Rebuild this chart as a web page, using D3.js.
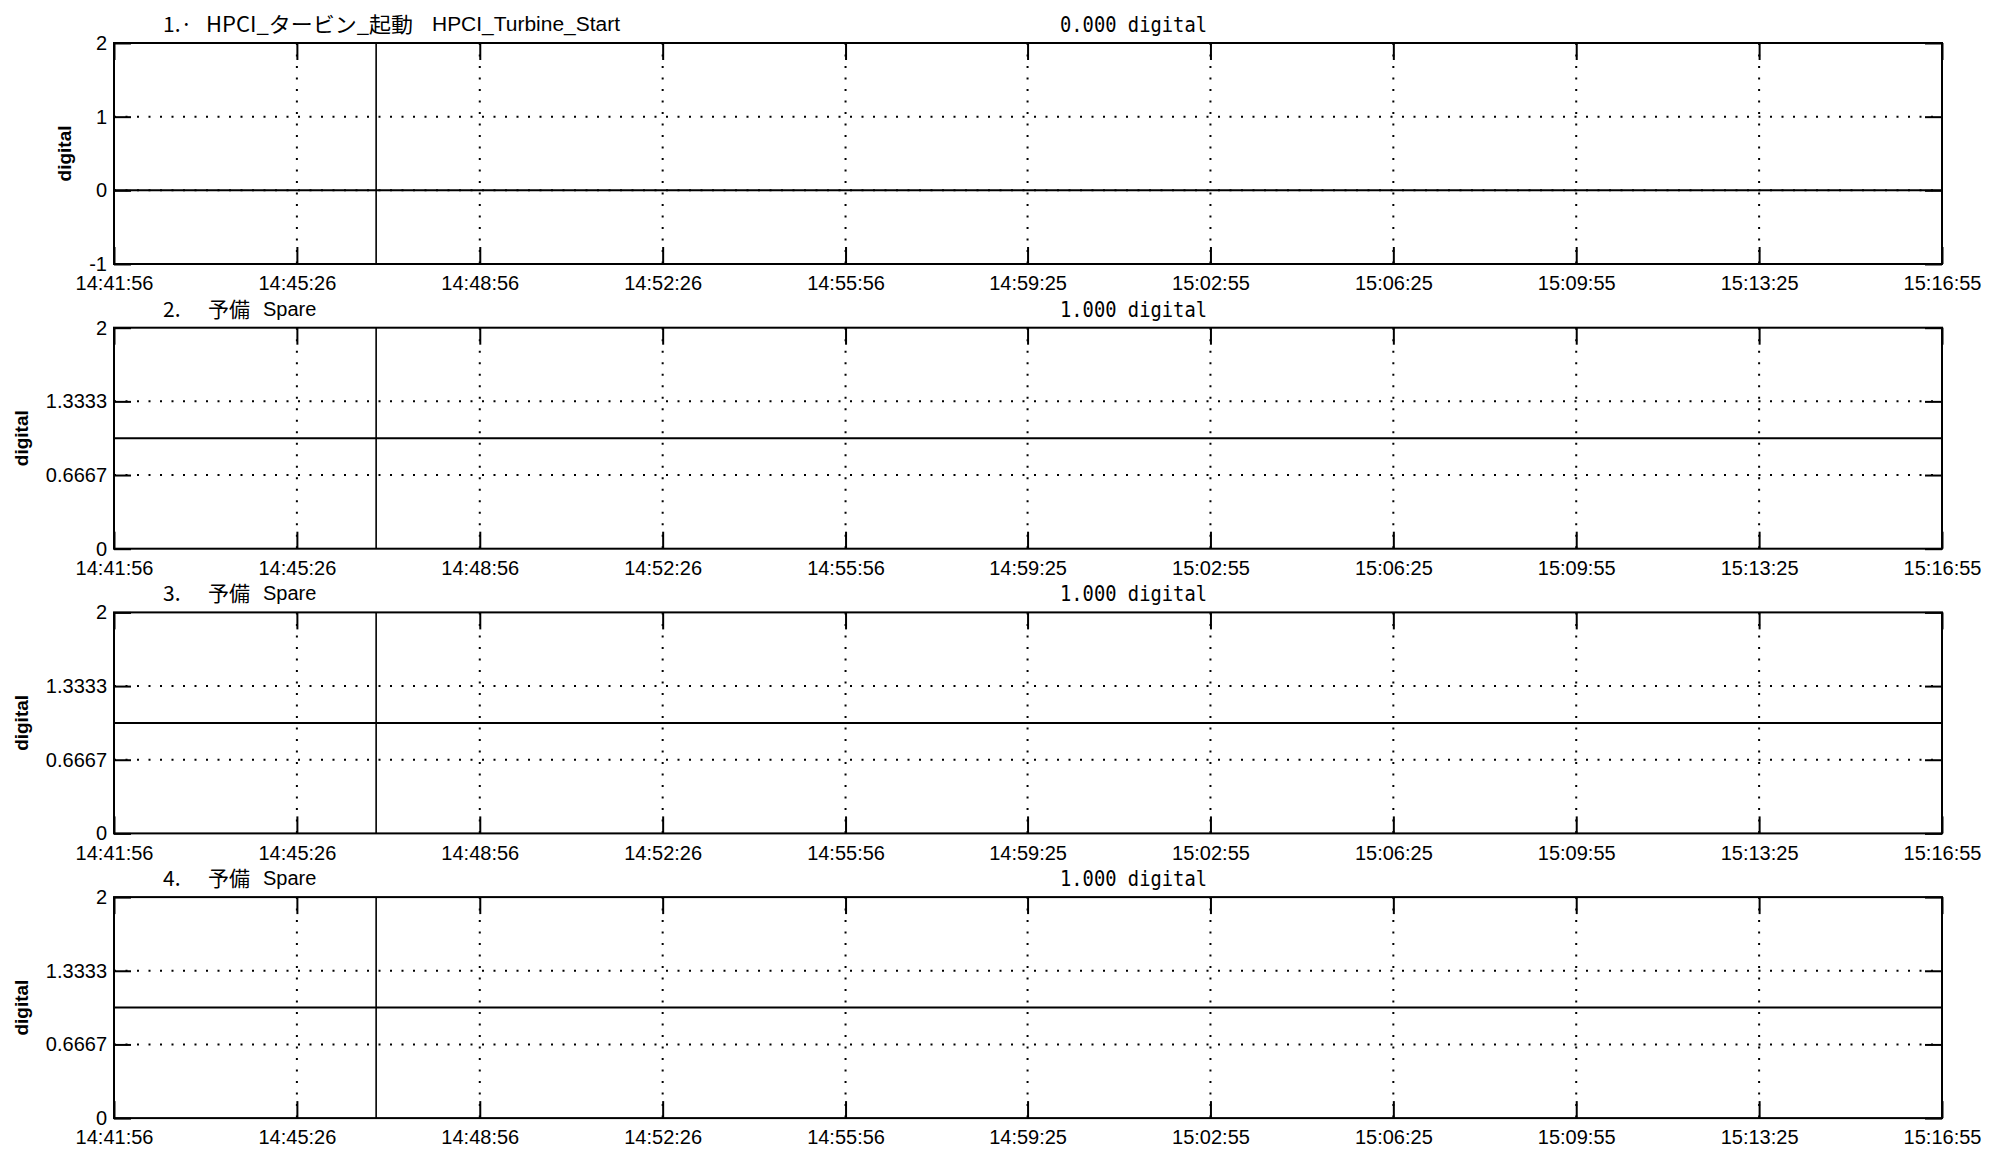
<!DOCTYPE html>
<meta charset="utf-8">
<style>
  body { margin: 0; background: #fff; }
  svg text { fill: #000; }
  .frame { fill: none; stroke: #000; stroke-width: 2; }
  .grid { stroke: #000; stroke-width: 2; stroke-dasharray: 2, 9.5; }
  .trace { fill: none; stroke: #000; stroke-width: 2; }
  .cursor { stroke: #000; stroke-width: 1.6; }
  .axis .tick line { stroke: #000; stroke-width: 2; }
  .axis text { font-family: "Liberation Sans", Arial, sans-serif; font-size: 20px; }
  .ylab { font-family: "Liberation Sans", Arial, sans-serif; font-size: 19px; font-weight: bold; }
  .jp { font-family: "Noto Sans CJK JP", sans-serif; font-size: 21px; }
  .en { font-family: "Liberation Sans", Arial, sans-serif; font-size: 20px; }
  .val { font-family: "DejaVu Sans Mono", monospace; font-size: 22px; }
</style>
<body></body>
<script src="https://cdn.jsdelivr.net/npm/d3@7/dist/d3.min.js"></script>
<script>

// time axis labels (equally spaced, about 3.5 min)
const tickLabels = ["14:41:56", "14:45:26", "14:48:56", "14:52:26", "14:55:56",
  "14:59:25", "15:02:55", "15:06:25", "15:09:55", "15:13:25", "15:16:55"];
const cursorTime = "14:46:57";

// per-panel titles
const panelNo = ["1.·", "2.", "3.", "4."];
const panelNameJp = ["HPCI_タービン_起動", "予備", "予備", "予備"];
const panelNameEn = ["HPCI_Turbine_Start", "Spare", "Spare", "Spare"];
const unit = "digital";
const currentValues = [0, 1, 1, 1];

// y axes
const yDomains = [[-1, 2], [0, 2], [0, 2], [0, 2]];
const yTicks = [[-1, 0, 1, 2], [0, 0.6667, 1.3333, 2], [0, 0.6667, 1.3333, 2], [0, 0.6667, 1.3333, 2]];

// recorded signals, sampled at the tick times
const hpciTurbineStart = [0, 0, 0, 0, 0, 0, 0, 0, 0, 0, 0];
const spare2 = [1, 1, 1, 1, 1, 1, 1, 1, 1, 1, 1];
const spare3 = [1, 1, 1, 1, 1, 1, 1, 1, 1, 1, 1];
const spare4 = [1, 1, 1, 1, 1, 1, 1, 1, 1, 1, 1];
const seriesList = [hpciTurbineStart, spare2, spare3, spare4];

const W = 2001, H = 1161;
const left = 114, right = 1942, top0 = 43, step = 284.7, ph = 221;
const tickLen = 17;

const parse = d3.timeParse("%H:%M:%S");
const fmt = d3.timeFormat("%H:%M:%S");
const times = tickLabels.map(parse);

const svg = d3.select("body").append("svg").attr("width", W).attr("height", H);

const x = d3.scaleTime()
  .domain([times[0], times[times.length - 1]])
  .range([0, right - left]);

const line = d3.line().x((d, i) => x(times[i]));

seriesList.forEach((vals, p) => {
  const g = svg.append("g").attr("transform", `translate(${left},${top0 + p * step})`);
  const y = d3.scaleLinear().domain(yDomains[p]).range([ph, 0]);

  // dotted grid
  g.selectAll(".vg").data(times.slice(1, -1)).join("line")
    .attr("class", "grid")
    .attr("x1", d => x(d)).attr("x2", d => x(d))
    .attr("y1", 0).attr("y2", ph);
  g.selectAll(".hg").data(yTicks[p].slice(1, -1)).join("line")
    .attr("class", "grid")
    .attr("x1", 0).attr("x2", x.range()[1])
    .attr("y1", d => y(d)).attr("y2", d => y(d));

  // axes with inward ticks
  g.append("g").attr("class", "axis")
    .attr("transform", `translate(0,${ph})`)
    .call(d3.axisBottom(x).tickValues(times).tickFormat(fmt)
      .tickSizeInner(-tickLen).tickSizeOuter(0).tickPadding(12));
  g.append("g").attr("class", "axis")
    .call(d3.axisTop(x).tickValues(times).tickFormat("")
      .tickSizeInner(-tickLen).tickSizeOuter(0));
  const ya = g.append("g").attr("class", "axis")
    .call(d3.axisLeft(y).tickValues(yTicks[p]).tickFormat(d => String(d))
      .tickSizeInner(-tickLen).tickSizeOuter(0).tickPadding(7));
  g.append("g").attr("class", "axis")
    .attr("transform", `translate(${x.range()[1]},0)`)
    .call(d3.axisRight(y).tickValues(yTicks[p]).tickFormat("")
      .tickSizeInner(-tickLen).tickSizeOuter(0));
  g.selectAll(".axis .domain").remove();

  // frame
  g.append("rect").attr("class", "frame")
    .attr("width", x.range()[1]).attr("height", ph);

  // cursor
  g.append("line").attr("class", "cursor")
    .attr("x1", x(parse(cursorTime))).attr("x2", x(parse(cursorTime)))
    .attr("y1", 0).attr("y2", ph);

  // signal
  g.append("path").attr("class", "trace")
    .attr("d", line.y(d => y(d))(vals));

  // y label
  const bx = ya.node().getBBox().x;
  g.append("text").attr("class", "ylab")
    .attr("text-anchor", "middle")
    .attr("transform", `translate(${bx - 18},${ph / 2}) rotate(-90)`)
    .text(unit);

  // titles
  g.append("text").attr("class", "jp")
    .attr("x", 163 - left).attr("y", -11)
    .text(panelNo[p]);
  const jp = g.append("text").attr("class", "jp")
    .attr("x", (p === 0 ? 206 : 208) - left).attr("y", -11)
    .text(panelNameJp[p]);
  if (p === 0) jp.attr("textLength", 207).attr("lengthAdjust", "spacingAndGlyphs");
  const jw = jp.node().getComputedTextLength();
  const en = g.append("text").attr("class", "en")
    .attr("x", (p === 0 ? 206 : 208) - left + jw + (p === 0 ? 19 : 13)).attr("y", -12)
    .text(panelNameEn[p]);
  if (p === 0) en.attr("textLength", 188).attr("lengthAdjust", "spacingAndGlyphs");

  g.append("text").attr("class", "val")
    .attr("x", 1060 - left).attr("y", -11)
    .attr("textLength", 147).attr("lengthAdjust", "spacingAndGlyphs")
    .text(d3.format(".3f")(currentValues[p]) + " " + unit);
});
</script>
